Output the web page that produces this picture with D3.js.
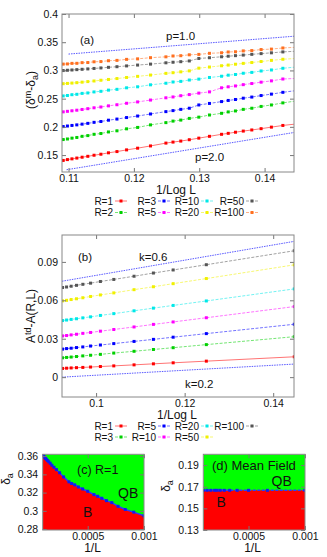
<!DOCTYPE html>
<html>
<head>
<meta charset="utf-8">
<script src="https://cdn.jsdelivr.net/npm/d3@7"></script>
<style>
  body { margin: 0; background: #fff; }
  text { font-family: "Liberation Sans", Arial, sans-serif; fill: #111; }
</style>
</head>
<body>
<div id="chart"></div>
<script>
// ---- data ----
// system sizes L used in panels (a) and (c)
const sizesA = [1000, 1100, 1200, 1300, 1400, 1500, 1600, 1700, 1800, 2000, 2200, 2400, 2600, 2800, 3000,
  3500, 4000, 4500, 5000, 5500, 6000, 6500, 7000, 7500, 8000, 8500, 9000, 9500, 10000];

// panel (a): delta^m - delta_a for each R
const namesA = ['R=1', 'R=2', 'R=3', 'R=5', 'R=10', 'R=20', 'R=50', 'R=100'];
const diffR1 = [0.2050, 0.2025, 0.1995, 0.1968, 0.1945, 0.1925, 0.1905, 0.1885, 0.1868, 0.1832, 0.1800, 0.1772, 0.1748, 0.1730, 0.1712, 0.1662, 0.1622, 0.1592, 0.1562, 0.1540, 0.1515, 0.1497, 0.1478, 0.1462, 0.1447, 0.1433, 0.1420, 0.1405, 0.1396];
const diffR2 = [0.2458, 0.2425, 0.2388, 0.2362, 0.2330, 0.2310, 0.2282, 0.2265, 0.2240, 0.2210, 0.2172, 0.2150, 0.2120, 0.2102, 0.2075, 0.2035, 0.1990, 0.1965, 0.1930, 0.1910, 0.1882, 0.1868, 0.1845, 0.1832, 0.1812, 0.1800, 0.1785, 0.1775, 0.1762];
const diffR3 = [0.2642, 0.2612, 0.2580, 0.2555, 0.2528, 0.2508, 0.2485, 0.2468, 0.2448, 0.2415, 0.2388, 0.2330, 0.2310, 0.2288, 0.2270, 0.2228, 0.2192, 0.2165, 0.2138, 0.2118, 0.2095, 0.2080, 0.2062, 0.2048, 0.2035, 0.2025, 0.2015, 0.2005, 0.1997];
const diffR5 = [0.2858, 0.2848, 0.2815, 0.2792, 0.2768, 0.2748, 0.2725, 0.2710, 0.2692, 0.2620, 0.2598, 0.2572, 0.2552, 0.2530, 0.2515, 0.2475, 0.2442, 0.2418, 0.2392, 0.2372, 0.2352, 0.2338, 0.2322, 0.2308, 0.2295, 0.2285, 0.2275, 0.2266, 0.2259];
const diffR10 = [0.3060, 0.3038, 0.3008, 0.2990, 0.2965, 0.2950, 0.2928, 0.2916, 0.2897, 0.2875, 0.2846, 0.2830, 0.2806, 0.2795, 0.2773, 0.2745, 0.2710, 0.2692, 0.2665, 0.2651, 0.2630, 0.2619, 0.2601, 0.2593, 0.2577, 0.2570, 0.2556, 0.2548, 0.2540];
const diffR20 = [0.3212, 0.3198, 0.3178, 0.3158, 0.3140, 0.3125, 0.3110, 0.3095, 0.3083, 0.3060, 0.3040, 0.2992, 0.2975, 0.2960, 0.2948, 0.2918, 0.2895, 0.2875, 0.2856, 0.2840, 0.2826, 0.2813, 0.2802, 0.2792, 0.2783, 0.2776, 0.2770, 0.2765, 0.2760];
const diffR50 = [0.3340, 0.3328, 0.3312, 0.3298, 0.3285, 0.3272, 0.3262, 0.3252, 0.3242, 0.3225, 0.3212, 0.3168, 0.3155, 0.3145, 0.3135, 0.3112, 0.3095, 0.3080, 0.3066, 0.3055, 0.3044, 0.3035, 0.3027, 0.3020, 0.3014, 0.3008, 0.3003, 0.2998, 0.2994];
const diffR100 = [0.3410, 0.3398, 0.3378, 0.3370, 0.3352, 0.3346, 0.3331, 0.3327, 0.3313, 0.3303, 0.3284, 0.3277, 0.3261, 0.3256, 0.3241, 0.3226, 0.3205, 0.3196, 0.3178, 0.3172, 0.3157, 0.3153, 0.3140, 0.3138, 0.3126, 0.3125, 0.3115, 0.3112, 0.3106];
// fitted lines in (a), end points (x = 1/log L)
const fitP1X = [0.1100, 0.1445], fitP1Y = [0.329, 0.3606];
const fitP2X = [0.1097, 0.1445], fitP2Y = [0.124, 0.190];

// panel (b)
const sizesB = [1000, 3000, 5000, 7000, 10000, 15000, 20000, 25000, 30000, 35000, 40000, 45000, 50000];
const namesB = ['R=1', 'R=3', 'R=5', 'R=10', 'R=20', 'R=50', 'R=100'];
const gapR1 = [0.0159, 0.0125, 0.0112, 0.0104, 0.0096, 0.0088, 0.0083, 0.0079, 0.0076, 0.0074, 0.0072, 0.0070, 0.0068];
const gapR3 = [0.0316, 0.0254, 0.0230, 0.0216, 0.0202, 0.0188, 0.0178, 0.0171, 0.0166, 0.0161, 0.0157, 0.0154, 0.0151];
const gapR5 = [0.0413, 0.0340, 0.0312, 0.0295, 0.0279, 0.0262, 0.0251, 0.0243, 0.0236, 0.0231, 0.0226, 0.0223, 0.0219];
const gapR10 = [0.0551, 0.0464, 0.0431, 0.0412, 0.0392, 0.0372, 0.0359, 0.0349, 0.0342, 0.0335, 0.0330, 0.0325, 0.0322];
const gapR20 = [0.0689, 0.0595, 0.0560, 0.0539, 0.0518, 0.0496, 0.0482, 0.0471, 0.0463, 0.0456, 0.0451, 0.0446, 0.0442];
const gapR50 = [0.0877, 0.0770, 0.0730, 0.0706, 0.0683, 0.0658, 0.0642, 0.0630, 0.0620, 0.0612, 0.0606, 0.0600, 0.0596];
const gapR100 = [0.0987, 0.0878, 0.0837, 0.0813, 0.0788, 0.0763, 0.0747, 0.0734, 0.0725, 0.0717, 0.0710, 0.0704, 0.0700];
const fitK6X = [0.0923, 0.1447], fitK6Y = [0.0749, 0.1060];
const fitK2X = [0.0923, 0.1447], fitK2Y = [0.0000, 0.0102];

// panel (c): phase boundary delta_a(L) for R=1 (uses sizesA)
const boundaryR1 = [0.2945, 0.2986, 0.3015, 0.3050, 0.3090, 0.3112, 0.3138, 0.3160, 0.3178, 0.3215, 0.3240, 0.3262, 0.3285, 0.3300, 0.3318, 0.3372, 0.3418, 0.3452, 0.3478, 0.3500, 0.3522, 0.3538, 0.3552, 0.3565, 0.3575, 0.3585, 0.3595, 0.3605, 0.3615];

// panel (d): mean field boundary
const sizesD = [1000, 1500, 2000, 2500, 3000, 3500, 4000, 4500, 5000, 6000, 7500, 10000];
const boundaryMF = [0.1667, 0.1667, 0.1667, 0.1667, 0.1667, 0.1667, 0.1667, 0.1667, 0.1667, 0.1667, 0.1667, 0.1667];

// tick values
const xTicksA = [0.11, 0.12, 0.13, 0.14], yTicksA = [0.15, 0.2, 0.25, 0.3, 0.35, 0.4];
const xTicksB = [0.1, 0.12, 0.14], yTicksB = [0, 0.03, 0.06, 0.09];
const xTicksC = [0.0005, 0.001], yTicksC = [0.28, 0.3, 0.32, 0.34, 0.36];
const xTicksD = [0.0005, 0.001], yTicksD = [0.13, 0.15, 0.17, 0.19];

// ---- drawing ----
const W = 327, H = 557;
const svg = d3.select('#chart').append('svg').attr('width', W).attr('height', H);

// gnuplot-like line colours, in plotting order
const palette = ['#ff0000', '#00d000', '#0000ff', '#ff00ff', '#00e8e8', '#f0f000', '#555555', '#ff7020'];
const fitColor = '#5a5aff';

function panel(cfg) {
  const x = d3.scaleLinear().domain(cfg.xDomain).range([cfg.left, cfg.right]);
  const y = d3.scaleLinear().domain(cfg.yDomain).range([cfg.bottom, cfg.top]);
  const g = svg.append('g');
  const id = 'clip' + cfg.name;
  svg.append('clipPath').attr('id', id).append('rect')
    .attr('x', cfg.left).attr('y', cfg.top)
    .attr('width', cfg.right - cfg.left).attr('height', cfg.bottom - cfg.top);
  const body = g.append('g').attr('clip-path', `url(#${id})`);
  const axes = g.append('g');
  return { x, y, g, body, axes, cfg };
}

function drawAxes(p, xt, yt, fs) {
  const { x, y, axes, cfg } = p;
  const fmt = d => String(d);
  const xa = axes.append('g').attr('transform', `translate(0,${cfg.bottom})`)
    .call(d3.axisBottom(x).tickValues(xt).tickSizeInner(-4).tickSizeOuter(0).tickPadding(cfg.xPad).tickFormat(fmt));
  const xt2 = axes.append('g').attr('transform', `translate(0,${cfg.top})`)
    .call(d3.axisTop(x).tickValues(xt).tickSizeInner(-4).tickSizeOuter(0).tickFormat(''));
  const ya = axes.append('g').attr('transform', `translate(${cfg.left},0)`)
    .call(d3.axisLeft(y).tickValues(yt).tickSizeInner(-4).tickSizeOuter(0).tickPadding(cfg.yPad).tickFormat(fmt));
  const yt2 = axes.append('g').attr('transform', `translate(${cfg.right},0)`)
    .call(d3.axisRight(y).tickValues(yt).tickSizeInner(-4).tickSizeOuter(0).tickFormat(''));
  [xa, xt2, ya, yt2].forEach(a => {
    a.select('.domain').remove();
    a.selectAll('line').attr('stroke', '#777');
    a.selectAll('text').attr('font-size', fs).attr('fill', '#111')
      .attr('font-family', '"Liberation Sans", Arial, sans-serif');
  });
  axes.append('rect').attr('x', cfg.left).attr('y', cfg.top)
    .attr('width', cfg.right - cfg.left).attr('height', cfg.bottom - cfg.top)
    .attr('fill', 'none').attr('stroke', '#888').attr('stroke-width', 1);
}

function drawSeries(p, sizes, values, c, solid) {
  const pts = sizes.map((L, i) => [1 / Math.log(L), values[i]]).filter(d => d[1] !== undefined);
  const line = d3.line().x(d => p.x(d[0])).y(d => p.y(d[1]));
  p.body.append('path').datum(pts).attr('d', line)
    .attr('fill', 'none').attr('stroke', c).attr('stroke-width', 1).attr('stroke-opacity', 0.55)
    .attr('stroke-dasharray', solid ? null : '3,1.5');
  p.body.selectAll(null).data(pts).join('rect')
    .attr('x', d => p.x(d[0]) - 1.5).attr('y', d => p.y(d[1]) - 1.5)
    .attr('width', 3).attr('height', 3).attr('fill', c);
}

function drawFit(p, xs, ys) {
  const line = d3.line().x(d => p.x(d[0])).y(d => p.y(d[1]));
  p.body.append('path').datum(d3.zip(xs, ys)).attr('d', line)
    .attr('fill', 'none').attr('stroke', fitColor).attr('stroke-width', 1)
    .attr('stroke-dasharray', '1.5,1');
}

function label(x, y, str, size, anchor) {
  return svg.append('text').attr('x', x).attr('y', y).attr('font-size', size)
    .attr('text-anchor', anchor || 'start').text(str);
}

function drawLegend(names, rowY, colRight, fs) {
  names.forEach((n, i) => {
    const col = Math.floor(i / 2), row = i % 2;
    const xr = colRight[col], yy = rowY[row];
    label(xr, yy + 3.5, n, fs, 'end');
    const x0 = xr + 2, x1 = xr + 14;
    svg.append('line').attr('x1', x0).attr('x2', x1).attr('y1', yy).attr('y2', yy)
      .attr('stroke', palette[i]).attr('stroke-opacity', 0.55).attr('stroke-width', 1)
      .attr('stroke-dasharray', i === 0 ? null : '3,1.5');
    svg.append('rect').attr('x', (x0 + x1) / 2 - 1.5).attr('y', yy - 1.5)
      .attr('width', 3).attr('height', 3).attr('fill', palette[i]);
  });
}

const legendCols = [113, 156, 199, 244];

// panel (a)
const pa = panel({ name: 'a', left: 62, right: 294, top: 14, bottom: 172,
  xDomain: [0.109, 0.1445], yDomain: [0.12, 0.4], xPad: 3, yPad: 4 });
drawFit(pa, fitP1X, fitP1Y);
drawFit(pa, fitP2X, fitP2Y);
[diffR1, diffR2, diffR3, diffR5, diffR10, diffR20, diffR50, diffR100]
  .forEach((v, i) => drawSeries(pa, sizesA, v, palette[i], i === 0));
drawAxes(pa, xTicksA, yTicksA, 10.5);
label(80, 44, '(a)', 11.5);
label(166, 40, 'p=1.0', 11.5);
label(195, 161, 'p=2.0', 11.5);
label(176, 193.5, '1/Log L', 12, 'middle');
const yla = svg.append('text').attr('transform', 'translate(35,90) rotate(-90)')
  .attr('text-anchor', 'middle').attr('font-size', 12);
yla.append('tspan').text('(δ');
yla.append('tspan').attr('dy', -4).attr('font-size', 9).text('m');
yla.append('tspan').attr('dy', 4).text('-δ');
yla.append('tspan').attr('dy', 3).attr('font-size', 9).text('a');
yla.append('tspan').attr('dy', -3).text(')');
drawLegend(namesA, [201, 212.5], legendCols, 10);

// panel (b)
const pb = panel({ name: 'b', left: 62, right: 294, top: 235, bottom: 397,
  xDomain: [0.0923, 0.1447], yDomain: [-0.0155, 0.111], xPad: 3, yPad: 4 });
drawFit(pb, fitK6X, fitK6Y);
drawFit(pb, fitK2X, fitK2Y);
[gapR1, gapR3, gapR5, gapR10, gapR20, gapR50, gapR100]
  .forEach((v, i) => drawSeries(pb, sizesB, v, palette[i], i === 0));
drawAxes(pb, xTicksB, yTicksB, 10.5);
label(78, 261, '(b)', 11.5);
label(139, 261, 'k=0.6', 11.5);
label(185, 388, 'k=0.2', 11.5);
label(177, 419, '1/Log L', 12, 'middle');
const ylb = svg.append('text').attr('transform', 'translate(35,316) rotate(-90)')
  .attr('text-anchor', 'middle').attr('font-size', 12);
ylb.append('tspan').text('A');
ylb.append('tspan').attr('dy', -4).attr('font-size', 9).text('td');
ylb.append('tspan').attr('dy', 4).text('-A(R,L)');
drawLegend(namesB, [426, 437], legendCols, 10);

// phase diagram panels
function phasePanel(cfg, sizes, bound, xt, yt, dashed) {
  const p = panel(cfg);
  const pts = sizes.map((L, i) => [1 / L, bound[i]]).sort((a, b) => a[0] - b[0]);
  p.body.append('rect').attr('x', cfg.left).attr('y', cfg.top)
    .attr('width', cfg.right - cfg.left).attr('height', cfg.bottom - cfg.top).attr('fill', '#00ff00');
  const area = d3.area().x(d => p.x(d[0])).y0(cfg.bottom).y1(d => p.y(d[1]));
  const ext = [[cfg.xDomain[0], pts[0][1]], ...pts, [cfg.xDomain[1], pts[pts.length - 1][1]]];
  p.body.append('path').datum(ext).attr('d', area).attr('fill', '#ff0000');
  const line = d3.line().x(d => p.x(d[0])).y(d => p.y(d[1]));
  p.body.append('path').datum(pts).attr('d', line).attr('fill', 'none')
    .attr('stroke', '#2a3cff').attr('stroke-width', 1.5)
    .attr('stroke-dasharray', dashed ? '3,1.5' : null);
  p.body.selectAll(null).data(pts).join('rect')
    .attr('x', d => p.x(d[0]) - 1.5).attr('y', d => p.y(d[1]) - 1.5)
    .attr('width', 3).attr('height', 3).attr('fill', '#1020ee');
  drawAxes(p, xt, yt, 10.5);
  return p;
}

phasePanel({ name: 'c', left: 42.7, right: 144, top: 454.3, bottom: 530,
  xDomain: [0.0001, 0.001], yDomain: [0.279, 0.362], xPad: 2.5, yPad: 4.5 },
  sizesA, boundaryR1, xTicksC, yTicksC, false);
label(77, 474, '(c) R=1', 12.5);
label(118, 498, 'QB', 14);
label(83, 517, 'B', 14);
label(92.5, 551.5, '1/L', 12, 'middle');

phasePanel({ name: 'd', left: 203.3, right: 305, top: 454.3, bottom: 530,
  xDomain: [0.0001, 0.001], yDomain: [0.13, 0.2], xPad: 2.5, yPad: 4.5 },
  sizesD, boundaryMF, xTicksD, yTicksD, true);
label(212, 470, '(d) Mean Field', 13);
label(271.5, 486, 'QB', 14);
label(216.5, 507, 'B', 14);
label(252.5, 551.5, '1/L', 12, 'middle');

[[10, 479], [170, 486]].forEach(([xx, yy]) => {
  const t = svg.append('text').attr('transform', `translate(${xx},${yy}) rotate(-90)`)
    .attr('text-anchor', 'middle').attr('font-size', 12);
  t.append('tspan').text('δ');
  t.append('tspan').attr('dy', 3).attr('font-size', 9).text('a');
});
</script>
</body>
</html>
